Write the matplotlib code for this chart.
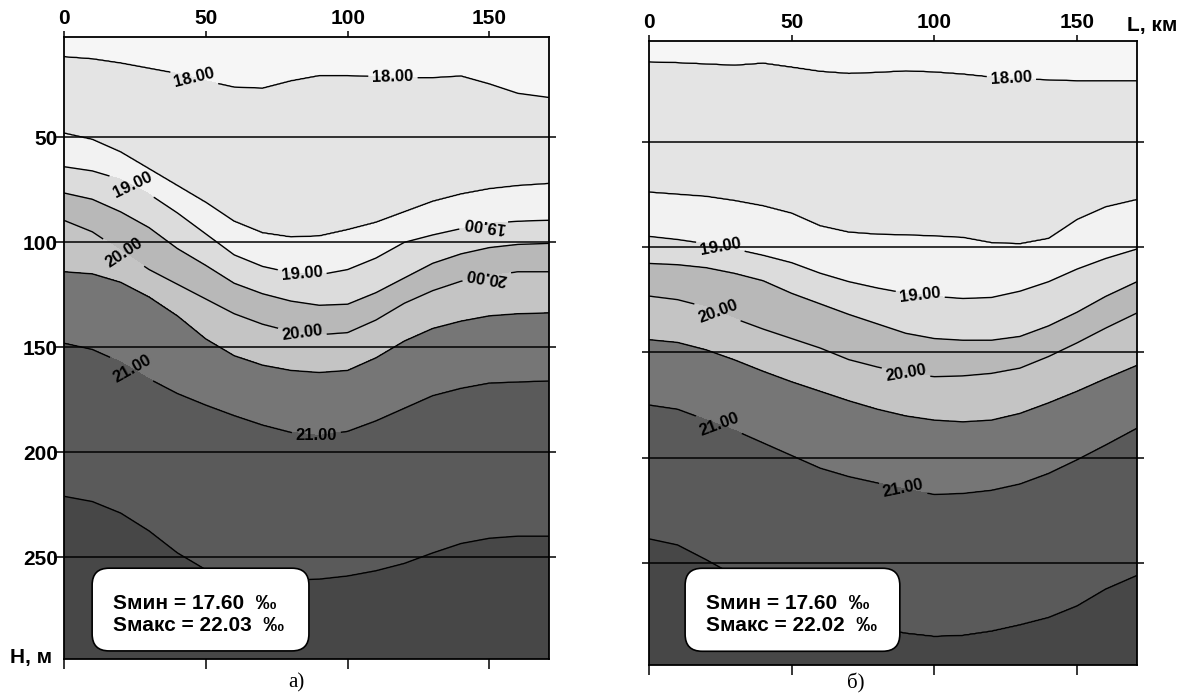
import matplotlib.pyplot as plt
import numpy as np
from matplotlib.patches import FancyBboxPatch

plt.rcParams['font.family'] = ['Liberation Sans', 'DejaVu Sans']
plt.rcParams['font.weight'] = 'bold'

# stations along the section, km (the last one is the right edge)
km = [0, 10, 20, 30, 40, 50, 60, 70, 80, 90, 100, 110, 120, 130, 140, 150, 160, 171]
iso_levels = [18.0, 18.5, 19.0, 19.5, 20.0, 20.5, 21.0, 21.5]
labelled_levels = [18.0, 19.0, 20.0, 21.0]
km_ticks = [0, 50, 100, 150]
depth_ticks = [50, 100, 150, 200, 250]

# a) depth (m) of each isohaline at the stations
a_180 = [11.5, 12.5, 14.5, 17, 19.5, 23, 26, 26.5, 23, 20.5, 20.5, 21, 21.5, 21.5, 20.7, 24.5, 29, 31]
a_185 = [48, 51, 57, 65, 73, 81, 90, 95.5, 97.5, 97, 94, 90.5, 85.5, 80.5, 77, 74.5, 73, 72]
a_190 = [64, 66, 70, 77, 86, 96, 106, 111.5, 114.5, 115.5, 113, 107.5, 100, 96.5, 93.5, 91, 90, 89.5]
a_195 = [76.5, 79.5, 85.5, 93, 103, 111, 119.5, 124.5, 128, 130, 129.5, 124, 117, 110, 105.5, 102.5, 101, 100.5]
a_200 = [89.5, 95, 104, 113, 120, 127, 134, 139, 142.5, 144, 143, 137, 129, 123, 118.5, 116, 114, 114]
a_205 = [114, 115, 119, 126, 135, 146, 154, 158.5, 161, 162, 161, 155, 147, 141, 137.5, 135, 134, 133.6]
a_210 = [148, 151, 157, 165, 172, 177.5, 182.5, 187, 190.5, 192, 190, 185, 179, 173, 169.5, 167, 166.5, 166]
a_215 = [221, 223.5, 229, 237.5, 248, 256, 260, 261, 261, 260.5, 259, 256.5, 253, 248, 243.5, 241, 240, 240]
a_smin, a_smax = 17.60, 22.03

# б) depth (m) of each isohaline at the stations
b_180 = [12, 12.4, 13, 13.6, 12.6, 14.5, 16.5, 17.5, 17, 16.3, 16.8, 17.8, 19.2, 20, 20.6, 21, 21, 21]
b_185 = [74, 75, 76, 78, 80.5, 84, 90, 93, 94, 94.3, 94.8, 95.5, 98, 98.5, 96, 87, 81, 77.5]
b_190 = [95, 96.5, 98.5, 101, 104, 107.5, 112.5, 116.5, 119.5, 122, 123.5, 124.5, 124, 121, 116.5, 110.5, 105.5, 101]
b_195 = [107.8, 108.4, 109.8, 112.5, 116, 122, 127, 132, 136.5, 141, 143.5, 144.3, 144.3, 142.5, 137.5, 131, 123.5, 116.5]
b_200 = [123.3, 125, 128.5, 134, 139, 143.5, 148, 153.5, 157, 160, 161.6, 161.2, 160, 157.5, 152, 145.5, 138.5, 131.3]
b_205 = [144, 145.3, 148.8, 153.6, 159, 164, 168.5, 173, 177, 180.2, 182.2, 183, 182.2, 179, 174, 168.5, 162.5, 156.2]
b_210 = [175, 177, 182, 187, 193, 199, 205, 209, 212, 215, 217.5, 217, 215.5, 212.5, 207.5, 201, 194, 186]
b_215 = [238.6, 241.5, 248.5, 256, 263, 269, 274, 278, 281, 283.5, 285, 284.5, 282.5, 279.5, 276, 270.5, 262.5, 256]
b_smin, b_smax = 17.60, 22.02

Z_TOP, Z_BOT = 2.2, 298.5
band_colors = ['#f6f6f6', '#e4e4e4', '#f2f2f2', '#dcdcdc', '#b8b8b8',
               '#c4c4c4', '#767676', '#5a5a5a', '#474747']


def salinity_field(iso_depths, s_min, s_max):
    # the isohalines are joined by straight segments between stations
    x = np.linspace(0, km[-1], 4 * len(km) * 10)
    z = np.linspace(Z_TOP, Z_BOT, 700)
    iso_x = [np.interp(x, km, iso) for iso in iso_depths]
    s = [s_min] + iso_levels + [s_max]
    field = np.empty((z.size, x.size))
    for j in range(x.size):
        d = [Z_TOP] + [iso[j] for iso in iso_x] + [Z_BOT]
        field[:, j] = np.interp(z, d, s)
    return x, z, field


def draw_panel(ax, iso_depths, s_min, s_max, label_pos, n_flip, box, show_ylabels):
    x, z, field = salinity_field(iso_depths, s_min, s_max)
    ax.contourf(x, z, field, levels=[s_min] + iso_levels + [s_max], colors=band_colors)
    half = [lv for lv in iso_levels if lv not in labelled_levels]
    ax.contour(x, z, field, levels=half, colors='black', linewidths=1.0)
    cs = ax.contour(x, z, field, levels=labelled_levels, colors='black', linewidths=1.0)
    texts = ax.clabel(cs, manual=label_pos, inline=True, inline_spacing=4,
                      fmt='%.2f', fontsize=12)
    # labels written upside down on the right-hand side, as in the original
    for t in texts[len(texts) - n_flip:]:
        t.set_rotation(t.get_rotation() + 180)

    for d in depth_ticks:
        ax.axhline(d, color='black', lw=1.1, zorder=3)

    ax.set_xlim(0, km[-1])
    ax.set_ylim(Z_BOT, Z_TOP)
    ax.set_xticks(km_ticks)
    ax.set_yticks(depth_ticks)
    ax.tick_params(axis='x', top=True, bottom=True, labeltop=True, labelbottom=False,
                   direction='out', width=1.1, labelsize=15, pad=3)
    for tk in ax.xaxis.get_major_ticks():
        tk.tick1line.set_markersize(7)
        tk.tick2line.set_markersize(4)
    ax.tick_params(axis='y', left=True, right=True, labelleft=show_ylabels,
                   direction='out', width=1.1, labelsize=15, pad=1)
    for tk in ax.yaxis.get_major_ticks():
        tk.tick1line.set_markersize(7 if show_ylabels else 5)
        tk.tick2line.set_markersize(5)
    for sp in ax.spines.values():
        sp.set_linewidth(1.3)

    x0, y0, x1, y1 = box
    bb = ax.get_position()
    fig_w, fig_h = ax.figure.get_size_inches()
    aspect = (bb.width * fig_w) / (bb.height * fig_h)
    patch = FancyBboxPatch((x0, y0), x1 - x0, y1 - y0,
                           boxstyle='round,pad=0,rounding_size=0.035',
                           mutation_aspect=aspect, transform=ax.transAxes,
                           facecolor='white', edgecolor='black', lw=1.2, zorder=6)
    ax.add_patch(patch)
    tx = x0 + 0.043
    ax.text(tx, y0 + (y1 - y0) * 0.57, f'Sмин = {s_min:.2f}  ‰', transform=ax.transAxes,
            fontsize=15, va='center', ha='left', zorder=7)
    ax.text(tx, y0 + (y1 - y0) * 0.31, f'Sмакс = {s_max:.2f}  ‰', transform=ax.transAxes,
            fontsize=15, va='center', ha='left', zorder=7)


fig = plt.figure(figsize=(11.81, 6.94), dpi=100)
ax_a = fig.add_axes([64 / 1181, 1 - 659 / 694, 485 / 1181, 622 / 694])
ax_b = fig.add_axes([649 / 1181, 1 - 665 / 694, 488 / 1181, 624 / 694])

a_labels = [(46, 21), (116, 21), (24, 73), (84, 114), (21, 105), (84, 143),
            (24, 160), (89, 192), (148, 92), (149, 116)]
b_labels = [(127, 19.5), (25, 100), (95, 123), (24, 131), (90, 160),
            (24, 186), (89, 215)]

draw_panel(ax_a, [a_180, a_185, a_190, a_195, a_200, a_205, a_210, a_215],
           a_smin, a_smax, a_labels, 2, (0.058, 0.013, 0.505, 0.146), True)
draw_panel(ax_b, [b_180, b_185, b_190, b_195, b_200, b_205, b_210, b_215],
           b_smin, b_smax, b_labels, 0, (0.074, 0.022, 0.514, 0.155), False)

ax_a.text(-0.025, 0.003, 'Н, м', transform=ax_a.transAxes, fontsize=15,
          ha='right', va='center')
ax_b.text(0.9795, 1.0256, 'L, км', transform=ax_b.transAxes, fontsize=15,
          ha='left', va='center')

fig.text(296 / 1181, 1 - 683 / 694, 'а)', family='Liberation Serif', weight='normal',
         fontsize=15, ha='center', va='center')
fig.text(856 / 1181, 1 - 683 / 694, 'б)', family='Liberation Serif', weight='normal',
         fontsize=15, ha='center', va='center')

fig.savefig('out.png', dpi=100)
